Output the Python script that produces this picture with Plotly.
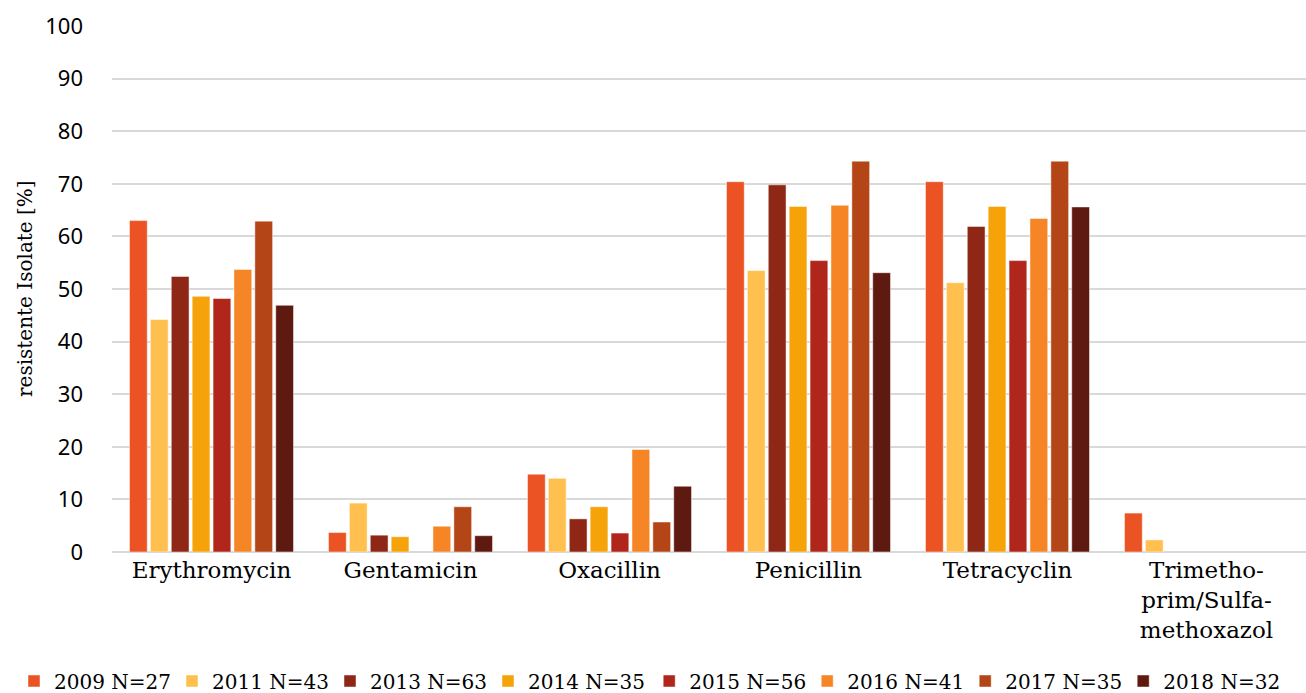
import plotly.graph_objects as go

categories = ["Erythromycin", "Gentamicin", "Oxacillin", "Penicillin", "Tetracyclin",
              "Trimetho-<br>prim/Sulfa-<br>methoxazol"]

series_names = ["2009 N=27", "2011 N=43", "2013 N=63", "2014 N=35",
                "2015 N=56", "2016 N=41", "2017 N=35", "2018 N=32"]

v2009 = [63.0, 3.7, 14.8, 70.4, 70.4, 7.4]
v2011 = [44.2, 9.3, 14.0, 53.5, 51.2, 2.3]
v2013 = [52.4, 3.2, 6.3, 69.8, 61.9, None]
v2014 = [48.6, 2.9, 8.6, 65.7, 65.7, None]
v2015 = [48.2, None, 3.6, 55.4, 55.4, None]
v2016 = [53.7, 4.9, 19.5, 65.9, 63.4, None]
v2017 = [62.9, 8.6, 5.7, 74.3, 74.3, None]
v2018 = [46.9, 3.1, 12.5, 53.1, 65.6, None]

series_values = [v2009, v2011, v2013, v2014, v2015, v2016, v2017, v2018]

colors = ["#EB5324", "#FFC04F", "#8E2716", "#F6A30A",
          "#B0261B", "#F58525", "#B34516", "#5E1A10"]

y_ticks = [0, 10, 20, 30, 40, 50, 60, 70, 80, 90, 100]

serif = "DejaVu Serif"
W, H = 1306, 693

fig = go.Figure()
for i, (name, vals, col) in enumerate(zip(series_names, series_values, colors)):
    fig.add_trace(go.Bar(
        x=categories, y=vals, name=name,
        legend="legend" if i < 4 else "legend2",
        marker=dict(color=col, line=dict(color="rgba(255,255,255,0.6)", width=0.8)),
    ))

leg_common = dict(
    orientation="h", xref="container", yref="container",
    xanchor="left", y=1 - 681 / H, yanchor="middle",
    font=dict(family=serif, size=20, color="#000000"),
    entrywidth=113, entrywidthmode="pixels",
    traceorder="normal", bgcolor="rgba(0,0,0,0)",
)
leg_x0 = 14
fig.update_layout(
    width=W, height=H,
    barmode="group", bargap=0.16, bargroupgap=0.15,
    plot_bgcolor="white", paper_bgcolor="white",
    margin=dict(l=112, r=0, t=26, b=141),
    font=dict(family=serif, size=20, color="#000000"),
    showlegend=True,
    legend=dict(x=leg_x0 / W, **leg_common),
    legend2=dict(x=(leg_x0 + 4 * 158.8) / W, **leg_common),
    annotations=[dict(
        text="resistente Isolate [%]", textangle=-90,
        xref="paper", yref="paper", x=-(112 - 25) / 1194, y=0.5,
        xanchor="center", yanchor="middle", showarrow=False,
        font=dict(family=serif, size=20, color="#000000"),
    )],
)

fig.update_xaxes(
    showgrid=False, showline=False, zeroline=False,
    tickfont=dict(family=serif, size=23, color="#000000"),
    ticks="", ticklabelstandoff=2,
)
fig.update_yaxes(
    range=[0, 100], tickvals=y_ticks, showgrid=True,
    gridcolor="#d9d9d9", gridwidth=1.5,
    zeroline=True, zerolinecolor="#d9d9d9", zerolinewidth=1.5,
    showline=False, ticks="",
    tickfont=dict(family="Noto Sans", size=22, color="#000000"),
    ticklabelstandoff=28,
)

fig.write_html("out.html", config={"displayModeBar": False},
               post_script="document.body.style.margin='0';")
